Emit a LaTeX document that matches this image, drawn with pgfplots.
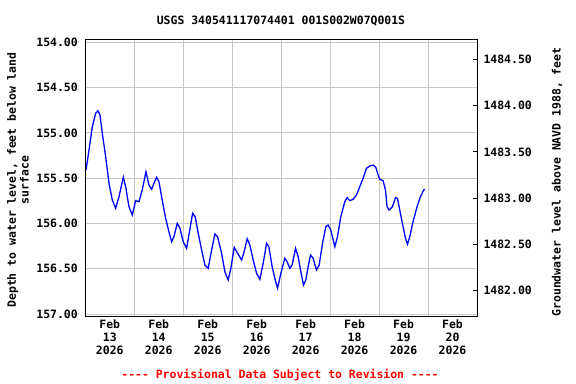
\documentclass[border=0pt]{standalone}
\usepackage{fontspec}
\setmainfont{DejaVu Sans Mono}
\usepackage{pgfplots}
\pgfplotsset{compat=1.18}
\definecolor{gridgray}{RGB}{200,200,200}
\newcommand{\lf}{\fontsize{11.5}{13}\selectfont\bfseries}
\begin{document}
\begin{tikzpicture}
\useasboundingbox (0,0) rectangle (576bp,384bp);
\begin{axis}[
  at={(85.3bp,68bp)}, anchor=south west,
  scale only axis, width=391.7bp, height=276.7bp,
  xmin=0, xmax=8,
  ymin=153.965, ymax=157.022, y dir=reverse,
  axis line style={black, line width=1bp},
  xtick={1,2,3,4,5,6,7}, xticklabels={},
  xmajorgrids, ymajorgrids,
  major grid style={gridgray, line width=1bp},
  extra x ticks={0.5,1.5,2.5,3.5,4.5,5.5,6.5,7.5},
  extra x tick labels={Feb\\13\\2026,Feb\\14\\2026,Feb\\15\\2026,Feb\\16\\2026,Feb\\17\\2026,Feb\\18\\2026,Feb\\19\\2026,Feb\\20\\2026},
  extra x tick style={grid=none, major tick length=0pt},
  x tick label style={align=center, font=\lf},
  ytick={154,154.5,155,155.5,156,156.5,157},
  y tick label style={font=\lf, xshift=-4bp},
  yticklabel style={/pgf/number format/.cd, fixed, fixed zerofill, precision=2, 1000 sep={}, assume math mode=true},
  major tick length=0pt,
  clip=true,
]
\addplot[blue, line width=1.3bp] coordinates {
(0.014,155.409) (0.076,155.188) (0.143,154.930) (0.212,154.782) (0.259,154.754)
(0.300,154.801) (0.347,155.003) (0.416,155.262) (0.484,155.556) (0.551,155.740)
(0.620,155.832) (0.688,155.704) (0.776,155.489) (0.824,155.593) (0.892,155.814)
(0.959,155.906) (1.029,155.748) (1.096,155.759) (1.163,155.630) (1.239,155.428)
(1.300,155.575) (1.355,155.622) (1.402,155.556) (1.457,155.489) (1.504,155.538)
(1.571,155.740) (1.641,155.943) (1.708,156.091) (1.763,156.201) (1.810,156.146)
(1.878,155.998) (1.933,156.053) (2.000,156.201) (2.069,156.274) (2.122,156.108)
(2.192,155.887) (2.245,155.925) (2.306,156.108) (2.376,156.293) (2.443,156.459)
(2.510,156.495) (2.580,156.293) (2.647,156.116) (2.702,156.146) (2.784,156.329)
(2.851,156.533) (2.918,156.624) (2.973,156.495) (3.041,156.263) (3.110,156.329)
(3.192,156.403) (3.245,156.312) (3.306,156.168) (3.361,156.238) (3.429,156.403)
(3.498,156.550) (3.565,156.617) (3.633,156.440) (3.702,156.219) (3.749,156.256)
(3.816,156.477) (3.871,156.606) (3.927,156.716) (3.994,156.550) (4.076,156.384)
(4.122,156.422) (4.178,156.495) (4.224,156.459) (4.294,156.274) (4.347,156.367)
(4.402,156.533) (4.457,156.680) (4.504,156.624) (4.551,156.477) (4.600,156.348)
(4.653,156.385) (4.722,156.514) (4.776,156.459) (4.845,156.219) (4.912,156.035)
(4.959,156.017) (5.014,156.072) (5.096,156.256) (5.151,156.146) (5.218,155.925)
(5.300,155.759) (5.347,155.715) (5.402,155.748) (5.469,155.733) (5.539,155.685)
(5.606,155.593) (5.673,155.501) (5.743,155.390) (5.810,155.365) (5.878,155.354)
(5.933,155.379) (5.980,155.464) (6.014,155.512) (6.082,155.527) (6.131,155.630)
(6.163,155.814) (6.204,155.851) (6.273,155.814) (6.335,155.715) (6.376,155.722)
(6.422,155.851) (6.490,156.035) (6.539,156.164) (6.580,156.230) (6.627,156.146)
(6.694,155.980) (6.776,155.814) (6.845,155.704) (6.912,155.630) (6.933,155.622)
};
\end{axis}
\begin{axis}[
  at={(85.3bp,68bp)}, anchor=south west,
  scale only axis, width=391.7bp, height=276.7bp,
  xmin=0, xmax=8,
  ymin=1481.728, ymax=1484.716,
  hide x axis,
  ytick pos=right, yticklabel pos=right,
  axis line style={black, line width=1bp},
  ytick={1482,1482.5,1483,1483.5,1484,1484.5},
  y tick label style={font=\lf, xshift=3bp},
  yticklabel style={/pgf/number format/.cd, fixed, fixed zerofill, precision=2, 1000 sep={}, assume math mode=true},
  tick align=inside, major tick length=4bp,
  tick style={black, line width=1bp},
]
\addplot[draw=none] coordinates {(0,1483)};
\end{axis}
\node[font=\lf] at (281bp,363bp) {USGS 340541117074401 001S002W07Q001S};
\node[font=\lf, rotate=90, align=center] at (18bp,204bp) {Depth to water level, feet below land\\surface};
\node[font=\lf, rotate=90] at (557bp,202bp) {Groundwater level above NAVD 1988, feet};
\node[font=\lf, text=red] at (280bp,9bp) {{-}{-}{-}{-} Provisional Data Subject to Revision {-}{-}{-}{-}};
\end{tikzpicture}
\end{document}
